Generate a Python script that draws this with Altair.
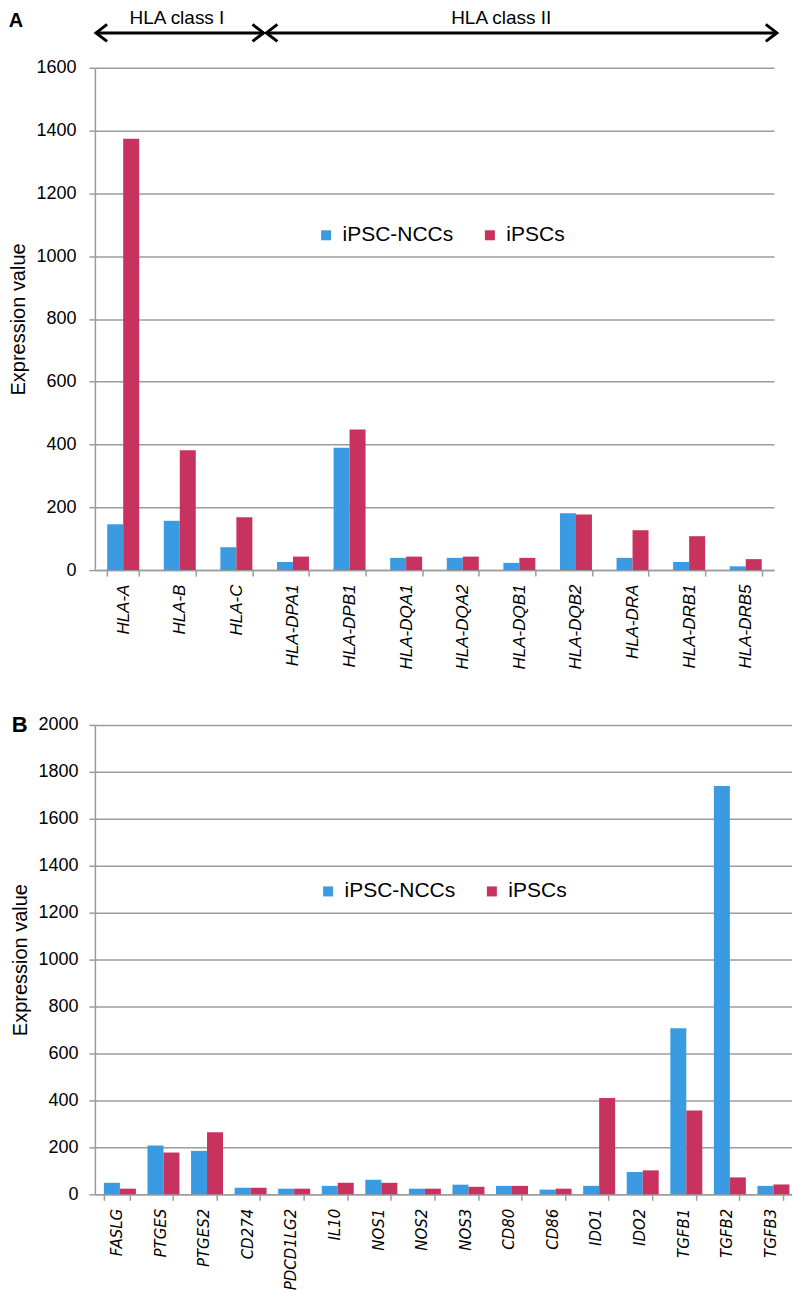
import altair as alt
import pandas as pd

# ---------------- data ----------------
series = ["iPSC-NCCs", "iPSCs"]
colors = ["#3A9BE3", "#C8325E"]

genes_a = ["HLA-A", "HLA-B", "HLA-C", "HLA-DPA1", "HLA-DPB1", "HLA-DQA1",
           "HLA-DQA2", "HLA-DQB1", "HLA-DQB2", "HLA-DRA", "HLA-DRB1", "HLA-DRB5"]
ncc_a = [146, 157, 73, 26, 390, 39, 39, 23, 181, 39, 26, 12]
ipsc_a = [1374, 382, 168, 43, 448, 43, 43, 39, 177, 127, 108, 35]
yticks_a = [0, 200, 400, 600, 800, 1000, 1200, 1400, 1600]

genes_b = ["FASLG", "PTGES", "PTGES2", "CD274", "PDCD1LG2", "IL10", "NOS1", "NOS2",
           "NOS3", "CD80", "CD86", "IDO1", "IDO2", "TGFB1", "TGFB2", "TGFB3"]
ncc_b = [49, 208, 185, 28, 24, 36, 62, 24, 41, 36, 20, 36, 95, 707, 1740, 36]
ipsc_b = [24, 178, 264, 28, 24, 49, 49, 24, 32, 36, 24, 410, 102, 357, 72, 42]
yticks_b = [0, 200, 400, 600, 800, 1000, 1200, 1400, 1600, 1800, 2000]

class_labels = ["HLA class I", "HLA class II"]
class_start = [0.02, 3.03]     # in category units (band edges)
class_end = [2.98, 12.05]
class_text_x = [1.45, 7.18]

panel_letters = ["A", "B"]

# ---------------- helpers ----------------
FONT = "Liberation Sans"
GRID = "#9c9c9c"


def long_df(genes, a, b):
    rows = []
    for g, v1, v2 in zip(genes, a, b):
        rows.append({"gene": g, "series": series[0], "value": v1})
        rows.append({"gene": g, "series": series[1], "value": v2})
    return pd.DataFrame(rows)


color_scale = alt.Scale(domain=series, range=colors)


def bars(df, genes, yticks, pad, lab_font, lab_size, leg_x, leg_y, lab_pad):
    ymax = yticks[-1]
    return alt.Chart(df).mark_bar(clip=False).encode(
        x=alt.X("gene:N", sort=genes, title=None,
                scale=alt.Scale(paddingInner=pad, paddingOuter=pad / 2),
                axis=alt.Axis(labelAngle=270, labelFont=lab_font, labelFontSize=lab_size,
                              labelFontStyle="italic", labelColor="black",
                              tickBand="extent", tickSize=6, tickColor=GRID, tickWidth=1.5,
                              domainColor=GRID, domainWidth=1.5, labelPadding=8, grid=False)),
        xOffset=alt.XOffset("series:N", sort=series),
        y=alt.Y("value:Q", title="Expression value",
                scale=alt.Scale(domain=[0, ymax], nice=False),
                axis=alt.Axis(values=yticks, format="d", labelFont=FONT, labelFontSize=18,
                              labelColor="black", labelPadding=lab_pad,
                              tickSize=6, tickColor=GRID, tickWidth=1.5,
                              domainColor=GRID, domainWidth=1.5,
                              gridColor=GRID, gridWidth=1.5,
                              titleFont=FONT, titleFontSize=20, titleFontWeight="normal",
                              titleColor="black", titlePadding=7)),
        color=alt.Color("series:N", scale=color_scale,
                        legend=alt.Legend(title=None, orient="none", legendX=leg_x, legendY=leg_y,
                                          direction="horizontal", symbolType="square",
                                          symbolSize=100, symbolStrokeWidth=0,
                                          labelFont=FONT, labelFontSize=21, labelColor="black",
                                          columnPadding=26, labelOffset=6)),
    )


# ---------------- panel A ----------------
df_a = long_df(genes_a, ncc_a, ipsc_a)
bars_a = bars(df_a, genes_a, yticks_a, 0.435, FONT, 17, 221, 157, 13)

ann = pd.DataFrame({"label": class_labels, "x0": class_start, "x1": class_end, "tx": class_text_x})
xs_a = alt.Scale(domain=[0, len(genes_a)], nice=False, zero=False)
arrow_y = 1711
text_y = 1757

rules_a = alt.Chart(ann).mark_rule(strokeWidth=3, color="black", clip=False).encode(
    x=alt.X("x0:Q", scale=xs_a, axis=None), x2="x1:Q",
    y=alt.datum(arrow_y))
heads_l = alt.Chart(ann).mark_point(shape="M1.3,-1L0,0L1.3,1", size=289, filled=False,
                                    strokeWidth=3, color="black", opacity=1, clip=False).encode(
    x=alt.X("x0:Q", scale=xs_a, axis=None), y=alt.datum(arrow_y))
heads_r = alt.Chart(ann).mark_point(shape="M-1.3,-1L0,0L-1.3,1", size=289, filled=False,
                                    strokeWidth=3, color="black", opacity=1, clip=False).encode(
    x=alt.X("x1:Q", scale=xs_a, axis=None), y=alt.datum(arrow_y))
texts_a = alt.Chart(ann).mark_text(font=FONT, fontSize=19, color="black", clip=False).encode(
    x=alt.X("tx:Q", scale=xs_a, axis=None), y=alt.datum(text_y), text="label:N")
letter_a = alt.Chart(pd.DataFrame({"t": [panel_letters[0]]})).mark_text(
    font=FONT, fontSize=20, fontWeight="bold", color="black", align="left", clip=False).encode(
    x=alt.X(datum=-1.52, scale=xs_a, axis=None), y=alt.datum(1750), text="t:N")

panel_a = alt.layer(bars_a, rules_a, heads_l, heads_r, texts_a, letter_a).resolve_scale(
    x="independent").properties(width=680, height=503)

# ---------------- panel B ----------------
df_b = long_df(genes_b, ncc_b, ipsc_b)
bars_b = bars(df_b, genes_b, yticks_b, 0.414, "DejaVu Sans", 15, 223, 156, 11)
xs_b = alt.Scale(domain=[0, len(genes_b)], nice=False, zero=False)
letter_b = alt.Chart(pd.DataFrame({"t": [panel_letters[1]]})).mark_text(
    font=FONT, fontSize=22, fontWeight="bold", color="black", align="left", clip=False).encode(
    x=alt.X(datum=-1.91, scale=xs_b, axis=None), y=alt.datum(2000), text="t:N")

panel_b = alt.layer(bars_b, letter_b).resolve_scale(x="independent").properties(
    width=698, height=470)

chart = alt.vconcat(panel_a, panel_b, spacing=44).resolve_scale(
    x="independent", y="independent").resolve_legend(color="independent").configure_view(
    stroke=None).properties(padding=0)

chart.save("out.html", embed_options={"renderer": "svg", "actions": False})
